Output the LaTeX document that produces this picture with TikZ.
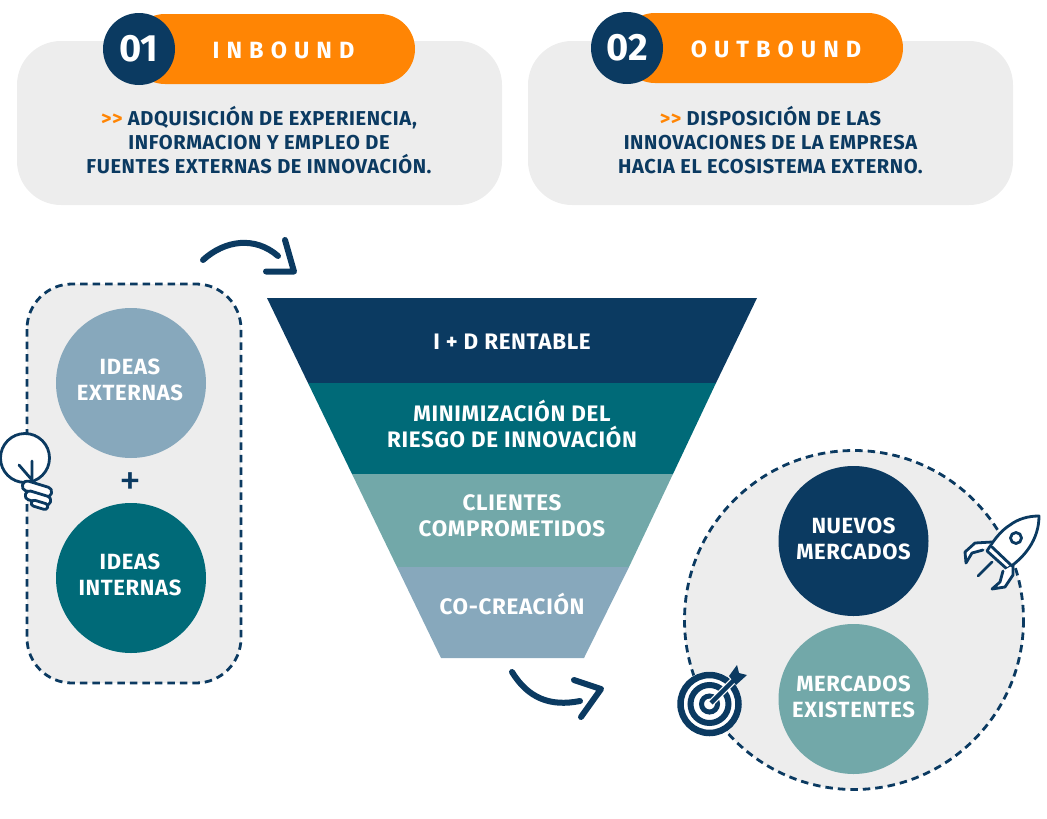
\documentclass[tikz,border=0pt]{standalone}
\usepackage{fontspec}
\setmainfont{Fira Sans}[BoldFont={Fira Sans Bold}]
\newfontfamily\spaced{Fira Sans Bold}[LetterSpace=30]
\newfontfamily\semi{Fira Sans Bold}[LetterSpace=3]
\usetikzlibrary{arrows.meta,calc}
\definecolor{navy}{HTML}{0B3A61}
\definecolor{tealD}{HTML}{006A78}
\definecolor{tealL}{HTML}{72A8A9}
\definecolor{blueG}{HTML}{87A8BC}
\definecolor{orangeC}{HTML}{FF8504}
\definecolor{cardG}{HTML}{EDEDED}
\tikzset{
  x=1pt,y=-1pt,
  card/.style={fill=cardG,rounded corners=44pt},
  pill/.style={fill=orangeC,rounded corners=35pt},
  badge/.style={circle,fill=navy,minimum size=72pt,inner sep=0,text=white,font=\fontsize{38}{38}\selectfont\bfseries},
  pilltext/.style={text=white,font=\fontsize{23.5}{23.5}\spaced},
  desc/.style={text=navy,align=center,font=\fontsize{20.1}{24}\semi},
  disc/.style={circle,minimum size=150pt,inner sep=0},
  disctext/.style={text=white,align=center,font=\fontsize{22}{25.5}\semi},
  band/.style={text=white,align=center,font=\fontsize{22.4}{26}\semi},
  dashline/.style={draw=navy,line width=2.8pt,dash pattern=on 7.5pt off 5pt},
  flow/.style={draw=navy,line width=6pt,line cap=round,line join=round},
  icon/.style={draw=navy,line width=2.8pt,line cap=round,line join=round},
}
\begin{document}
\begin{tikzpicture}
\useasboundingbox (0,0) rectangle (1047,819);
% cards
\path[card] (17,41) rectangle (502,205);
\path[card] (528,41) rectangle (1013,205);
\path[pill] (130,14) rectangle (415,84);
\path[pill] (620,13) rectangle (903,83);
\node[badge] (b1) at (139,49) {01};
\node[badge] (b2) at (627,48) {02};
\node[pilltext] (p1) at (283.5,50) {INBOUND};
\node[pilltext] (p2) at (776,49) {OUTBOUND};
\node[desc] (d1) at (259,140) {{\color{orangeC}>>} ADQUISICIÓN DE EXPERIENCIA,\\INFORMACION Y EMPLEO DE\\FUENTES EXTERNAS DE INNOVACIÓN.};
\node[desc] (d2) at (770.5,140) {{\color{orangeC}>>} DISPOSICIÓN DE LAS\\INNOVACIONES DE LA EMPRESA\\HACIA EL ECOSISTEMA EXTERNO.};
% left group
\path[dashline,fill=cardG,rounded corners=45pt] (27,284) rectangle (241,683);
\node[disc,fill=blueG] (ie) at (131,383) {};
\node[disc,fill=tealD] (ii) at (131,578) {};
\node[disctext] (iet) at (130,380) {IDEAS\\EXTERNAS};
\node[disctext] (iit) at (130,575) {IDEAS\\INTERNAS};
\node[text=navy,font=\fontsize{44}{44}\selectfont] (plus) at (130,484.5) {+};
% funnel
\fill[navy] (267,298) -- (757,298) -- (716,383) -- (308,383) -- cycle;
\fill[tealD] (308,383) -- (716,383) -- (673,474) -- (352,474) -- cycle;
\fill[tealL] (352,474) -- (673,474) -- (629,567) -- (397,567) -- cycle;
\fill[blueG] (397,567) -- (629,567) -- (584,658) -- (441,658) -- cycle;
\node[band] (f1) at (512,342) {I + D RENTABLE};
\node[band] (f2) at (512,424) {MINIMIZACIÓN DEL\\RIESGO DE INNOVACIÓN};
\node[band] (f3) at (512,516) {CLIENTES\\COMPROMETIDOS};
\node[band] (f4) at (512,604) {CO-CREACIÓN};
% right group
\path[dashline,fill=cardG] (854,620) circle (169.5);
\node[disc,fill=navy] (nm) at (853.5,541) {};
\node[disc,fill=tealL] (me) at (853.5,699) {};
\node[disctext] (nmt) at (853.5,539) {NUEVOS\\MERCADOS};
\node[disctext] (met) at (853.5,697) {MERCADOS\\EXISTENTES};
% flow arrows
\coordinate (a1s) at (203,260);
\coordinate (a1t) at (294,271.5);
\coordinate (a1e) at (278,256);
\coordinate (a1h) at (285,240);
\coordinate (a1l) at (266,271.5);
\draw[flow] (a1s) .. controls (225,240) and (255,236) .. (a1e);
\draw[flow] (a1h) -- (a1t) -- (a1l);
\coordinate (a2s) at (512,672);
\coordinate (a2e) at (580,701);
\coordinate (a2t) at (601,689);
\coordinate (a2h) at (574,680);
\coordinate (a2l) at (581,717);
\draw[flow] (a2s) .. controls (528,698) and (550,707) .. (a2e);
\draw[flow] (a2h) -- (a2t) -- (a2l);
% bulb
\draw[icon,fill=white] (25,458) circle (24.5);
\draw[icon,fill=white,rounded corners=4.5pt,rotate around={-17:(37,489)}] (22,484) rectangle (52,494);
\draw[icon,fill=white,rounded corners=4pt,rotate around={-17:(38,498)}] (25,493.5) rectangle (51,502.5);
\draw[icon,fill=white,rounded corners=3pt,rotate around={-17:(40,505)}] (31,502) rectangle (48,508);
\draw[icon] (32,461) -- (32,480) (19,465) -- (32,480);
% rocket
\draw[icon,fill=white] (1039,516) .. controls (1028,516) and (1018,519) .. (1010,525) .. controls (1002,530) and (995,538) .. (987,551) -- (1007,569) .. controls (1024,558) and (1039,540) .. (1039,516) -- cycle;
\draw[icon,fill=white] (992,542) -- (975,543) -- (965,552) -- (966,563) -- (972,553) -- (983,550);
\draw[icon,fill=white] (1013,565) -- (1013,575) -- (1005,587) -- (992,589) -- (1000,582) -- (1003,571);
\draw[icon] (992,547) -- (1012,566);
\draw[icon] (992,562) -- (978,576);
\draw[icon,fill=white] (1016,538) circle (5.5);
% target
\fill[white] (709.5,704) circle (32.5);
\draw[navy,line width=6.5pt] (709.5,704) circle (29);
\draw[navy,line width=6pt] (709.5,704) circle (19);
\draw[navy,line width=5pt] (709.5,704) circle (8);
\draw[white,line width=7pt] (711,703) -- (733,681);
\draw[navy,line width=4.5pt] (711,703) -- (735,679);
\fill[navy] (729,676) -- (737,665) -- (739,673) -- (747,675) -- (736,685) -- cycle;
\end{tikzpicture}
\end{document}
